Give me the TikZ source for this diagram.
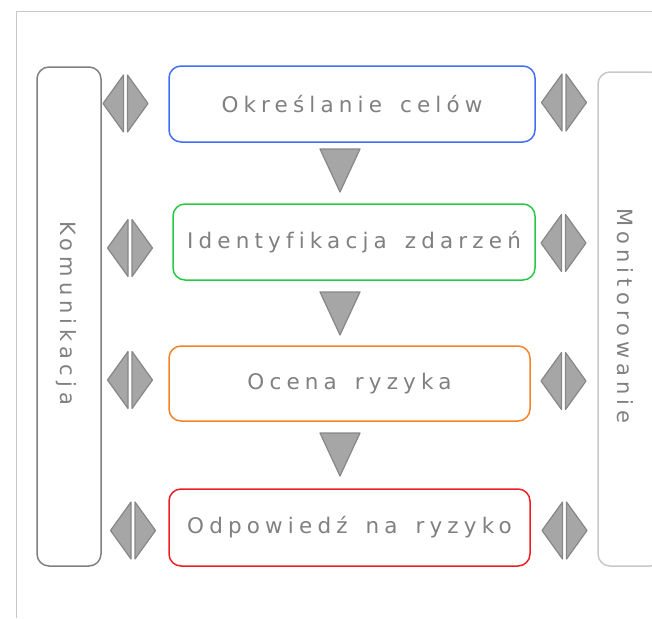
\documentclass[tikz,border=0pt]{standalone}
\usepackage{fontspec}
\setmainfont{DejaVu Sans}[LetterSpace=24, Ligatures={NoCommon}, WordSpace=1.5]
\definecolor{cblue}{RGB}{64,110,245}
\definecolor{cgreen}{RGB}{40,200,70}
\definecolor{corange}{RGB}{245,130,40}
\definecolor{cred}{RGB}{238,30,36}
\definecolor{txtgray}{RGB}{128,128,128}
\definecolor{darkedge}{RGB}{128,128,128}
\definecolor{lightedge}{RGB}{200,200,200}
\definecolor{arrfill}{RGB}{166,166,166}
\definecolor{arredge}{RGB}{135,135,135}
\tikzset{
  stepbox/.style={draw, line width=1.5pt, rounded corners=12pt, text=txtgray,
    font=\fontsize{21.5}{25}\selectfont, inner sep=0pt, anchor=center},
  sidebox/.style={draw, line width=1.5pt, rounded corners=12pt, inner sep=0pt},
  sidetext/.style={text=txtgray, font=\fontsize{21}{25}\selectfont, rotate=-90, inner sep=0pt},
  glyph/.style={fill=arrfill, draw=arredge, line width=1.2pt, line join=round},
  pics/downtri/.style={code={\path[glyph] (-20,-21.5) -- (20,-21.5) -- (0,21.5) -- cycle;}},
  pics/dbl/.style={code={
    \path[glyph] (-22.5,0) -- (-2,-28.5) -- (-2,28.5) -- cycle;
    \path[glyph] (22.5,0) -- (2,-28.5) -- (2,28.5) -- cycle;}}
}
\begin{document}
\begin{tikzpicture}[x=1pt,y=-1pt]
\useasboundingbox (0,0) rectangle (652,618);
\clip (0,0) rectangle (652,618);
% frame
\draw[lightedge, line width=1pt] (16.5,618) -- (16.5,11.5) -- (652,11.5);
% side boxes
\node[sidebox, draw=darkedge, minimum width=64pt, minimum height=499pt] (kom) at (69,316.5) {};
\node[sidetext] (komt) at (66,313) {Komunikacja};
\node[sidebox, draw=lightedge, minimum width=64pt, minimum height=494pt] (mon) at (630,319) {};
\node[sidetext] (mont) at (625,316) {Monitorowanie};
% main steps
\node[stepbox, draw=cblue, minimum width=366pt, minimum height=76pt] (b1) at (352,104) {Określanie celów};
\node[stepbox, draw=cgreen, minimum width=362pt, minimum height=76pt] (b2) at (354,242) {Identyfikacja zdarzeń};
\node[stepbox, draw=corange, minimum width=361pt, minimum height=75pt] (b3) at (349.5,383.5) {Ocena ryzyka};
\node[stepbox, draw=cred, minimum width=361pt, minimum height=77pt] (b4) at (349.5,527.5) {Odpowiedź na ryzyko};
% down arrows
\pic at (340,170.5) {downtri};
\pic at (340,313.5) {downtri};
\pic at (340,454.5) {downtri};
% double arrows
\pic at (125.5,103.5) {dbl};
\pic at (564,102.5) {dbl};
\pic at (130,248) {dbl};
\pic at (563.5,243) {dbl};
\pic at (130,380) {dbl};
\pic at (563.5,381) {dbl};
\pic at (133,530.5) {dbl};
\pic at (564.5,530.5) {dbl};
\end{tikzpicture}
\end{document}
